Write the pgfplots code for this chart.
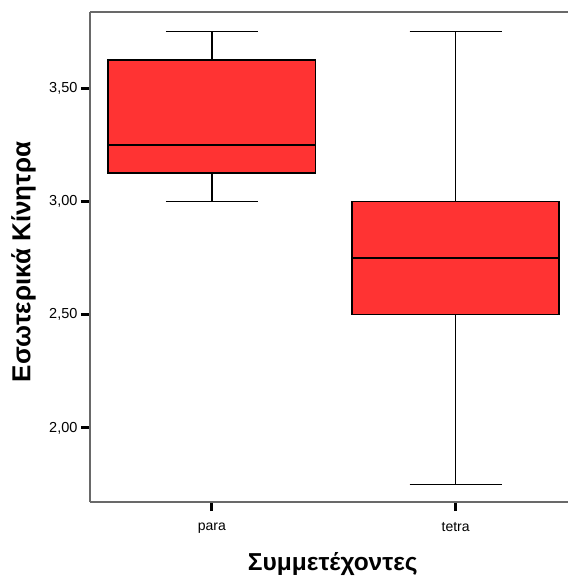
\documentclass[border=0pt]{standalone}
\usepackage{fontspec}
\setmainfont{Liberation Sans}
\usepackage{pgfplots}
\pgfplotsset{compat=1.18}
\usepgfplotslibrary{statistics}
\definecolor{boxred}{RGB}{255,51,51}
\definecolor{framegray}{RGB}{105,105,105}
\begin{document}
\begin{tikzpicture}
\begin{axis}[
  scale only axis, width=478pt, height=490pt,
  xmin=0.5, xmax=2.461, ymin=1.673, ymax=3.836,
  axis x line*=box, axis y line*=left,
  axis line style={-, draw=framegray, line width=1.4pt},
  xtick={1,2}, xticklabels={para,tetra},
  ytick={2,2.5,3,3.5}, yticklabels={{2,00},{2,50},{3,00},{3,50}},
  xtick pos=left, ytick pos=left, tick align=outside,
  major tick length=9pt,
  tick style={black, line width=3pt},
  yticklabel style={font=\fontsize{14.5}{16}\selectfont},
  xticklabel style={font=\fontsize{14}{16}\selectfont, yshift=-8pt},
  xlabel={Συμμετέχοντες}, ylabel={Εσωτερικά Κίνητρα},
  xlabel style={font=\bfseries\fontsize{24.5}{28}\selectfont, at={(axis description cs:0.508,-0.139)}, anchor=base},
  ylabel style={font=\bfseries\fontsize{26}{30}\selectfont, at={(axis description cs:-0.139,0.49)}, anchor=center},
  boxplot/draw direction=y,
]
\addplot+[boxplot prepared={draw position=1, lower whisker=3.0, lower quartile=3.125, median=3.25, upper quartile=3.625, upper whisker=3.75, box extend=0.85, whisker extend=0.377}, draw=black, fill=boxred, line width=1.6pt, solid, mark=none] coordinates {};
\addplot+[boxplot prepared={draw position=2, lower whisker=1.75, lower quartile=2.5, median=2.75, upper quartile=3.0, upper whisker=3.75, box extend=0.85, whisker extend=0.377}, draw=black, fill=boxred, line width=1.6pt, solid, mark=none] coordinates {};
\end{axis}
\pgfresetboundingbox
\path[use as bounding box] (-90pt,-79pt) rectangle (478pt,502pt);
\end{tikzpicture}
\end{document}
